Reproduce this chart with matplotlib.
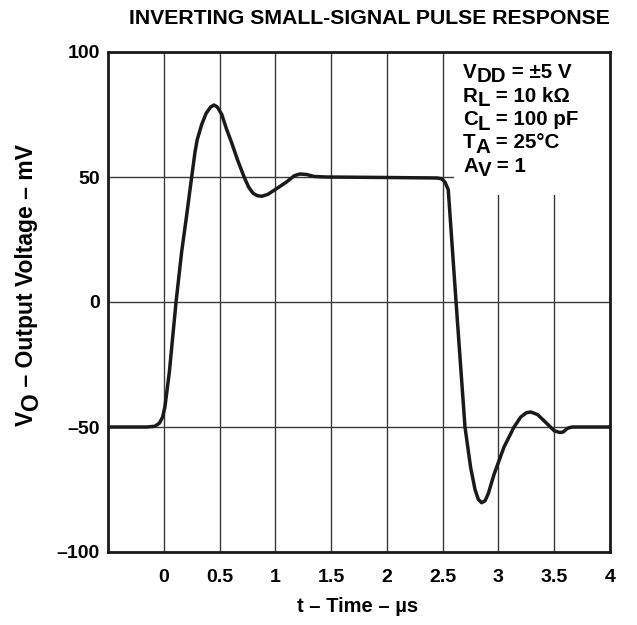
import matplotlib
matplotlib.use("Agg")
import matplotlib.pyplot as plt
from matplotlib.patches import Rectangle
from matplotlib.transforms import IdentityTransform

plt.rcParams['font.family'] = ['Liberation Sans', 'DejaVu Sans']
plt.rcParams['font.weight'] = 'bold'

# Data (time in µs, output voltage in mV)
time_us = [-0.5, -0.15, -0.08, -0.04, -0.01, 0.01, 0.05, 0.11, 0.16, 0.20,
           0.25, 0.28, 0.30, 0.34, 0.38, 0.42, 0.45, 0.48, 0.52, 0.56,
           0.61, 0.66, 0.72, 0.76, 0.80, 0.84, 0.88, 0.93, 1.00, 1.10,
           1.17, 1.22, 1.28, 1.35, 1.45, 2.00, 2.45, 2.49, 2.52, 2.55,
           2.62, 2.70, 2.75, 2.79, 2.82, 2.85, 2.88, 2.91, 2.96, 3.05, 3.14,
           3.20, 3.25, 3.29, 3.35, 3.42, 3.50, 3.55, 3.58, 3.62, 3.66, 4.0]
vout_mv = [-50, -50, -49.7, -48.5, -46, -42, -28, 0, 20, 33,
           50, 60, 65, 71, 75.5, 78, 78.8, 78, 75, 69.5,
           63.5, 57, 50, 46, 43.5, 42.5, 42.3, 43, 45, 48,
           50.5, 51.2, 51, 50.2, 50, 49.8, 49.6, 49.3, 48, 45,
           0, -50, -66, -75, -79, -80.3, -79.5, -76.5, -69, -58, -50,
           -46, -44.3, -44, -45, -48, -51.5, -52.2, -52, -50.5, -50, -50]

x_ticks = [0, 0.5, 1, 1.5, 2, 2.5, 3, 3.5, 4]
x_tick_labels = ['0', '0.5', '1', '1.5', '2', '2.5', '3', '3.5', '4']
y_ticks = [-100, -50, 0, 50, 100]
y_tick_labels = ['–100', '–50', '0', '50', '100']

# (text, is_subscript) pieces
conditions = [[('V', False), ('DD', True), (' = ±5 V', False)],
              [('R', False), ('L', True), (' = 10 kΩ', False)],
              [('C', False), ('L', True), (' = 100 pF', False)],
              [('T', False), ('A', True), (' = 25°C', False)],
              [('A', False), ('V', True), (' = 1', False)]]
ylabel_pieces = [('V', False), ('O', True), (' – Output Voltage – mV', False)]

W, H = 637, 625
fig = plt.figure(figsize=(6.37, 6.25), dpi=100)
ax = fig.add_axes([108/W, 73/H, 502/W, 500/H])

ax.set_xlim(-0.5, 4)
ax.set_ylim(-100, 100)

for xv in x_ticks[:-1]:
    ax.axvline(xv, color='#3a3a3a', lw=1.0, zorder=1)
for yv in [-50, 0, 50]:
    ax.axhline(yv, color='#3a3a3a', lw=1.0, zorder=1)

ax.add_patch(Rectangle((2.6, 43.0), 1.4, 57.0, facecolor='white',
                       edgecolor='none', zorder=2))

ax.plot(time_us, vout_mv, color='#1a1a1a', lw=2.5, zorder=3,
        solid_joinstyle='round', solid_capstyle='round')

ax.set_xticks(x_ticks)
ax.set_xticklabels(x_tick_labels)
ax.set_yticks(y_ticks)
ax.set_yticklabels(y_tick_labels)
ax.tick_params(axis='both', length=0, labelsize=14)
ax.tick_params(axis='x', pad=12)
ax.tick_params(axis='y', pad=6)
for lbl in ax.get_xticklabels() + ax.get_yticklabels():
    lbl.set_fontweight('bold')

for sp in ax.spines.values():
    sp.set_linewidth(2.0)
    sp.set_color('#1a1a1a')
    sp.set_zorder(4)

renderer = fig.canvas.get_renderer()


def piece_lengths(pieces, size):
    out = []
    for s, _ in pieces:
        t = fig.text(0, 0, s, transform=IdentityTransform(), fontsize=size,
                     fontweight='bold', ha='left', va='baseline')
        out.append(t.get_window_extent(renderer).width)
        t.remove()
    return out


def draw_pieces(x0, y0, pieces, size, rotation=0, sub_shift=5.0):
    lengths = piece_lengths(pieces, size)
    pos = 0.0
    for (s, sub), ln in zip(pieces, lengths):
        if rotation == 0:
            x, y = x0 + pos, y0 - (sub_shift if sub else 0)
        else:
            x, y = x0 + (sub_shift if sub else 0), y0 + pos
        fig.text(x, y, s, transform=IdentityTransform(), fontsize=size,
                 fontweight='bold', ha='left', va='baseline',
                 rotation=rotation, rotation_mode='anchor', zorder=5)
        pos += ln
    return pos


for i, pieces in enumerate(conditions):
    draw_pieces(463, H - (78 + i * 23.5), pieces, 14.8, sub_shift=4.5)

ylen = sum(piece_lengths(ylabel_pieces, 16.5))
draw_pieces(33, H - 285 - ylen / 2, ylabel_pieces, 16.5, rotation=90,
            sub_shift=5.0)

fig.text(358/W, 1 - 607/H, 't – Time – µs', fontsize=14.5,
         fontweight='bold', ha='center', va='center')

fig.text(369/W, 1 - 18/H, 'INVERTING SMALL-SIGNAL PULSE RESPONSE',
         ha='center', va='center', fontsize=15.3, fontweight='bold')

fig.savefig('out.png', dpi=100)
